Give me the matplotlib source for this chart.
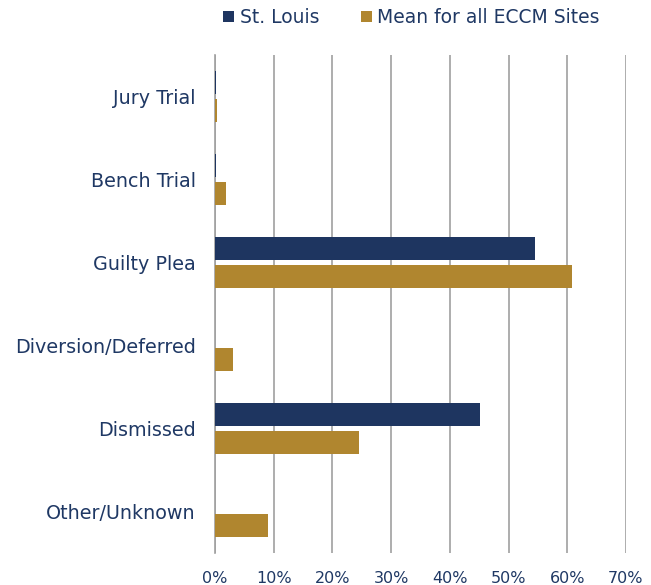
import matplotlib.pyplot as plt
import numpy as np

categories = ['Jury Trial', 'Bench Trial', 'Guilty Plea', 'Diversion/Deferred', 'Dismissed', 'Other/Unknown']
st_louis = [0.2, 0.1, 54.5, 0.0, 45.1, 0.0]
eccm_mean = [0.3, 1.9, 60.8, 3.1, 24.5, 9.0]

navy = '#1E3560'
gold = '#B0862F'
text_color = '#1F3864'

plt.rcParams['font.family'] = ['DejaVu Sans']

fig = plt.figure(figsize=(6.51, 5.85), dpi=100)
ax = fig.add_axes([215 / 651, 32 / 585, 411 / 651, 498 / 585])

y = np.arange(len(categories))
h = 0.28
ax.barh(y - 0.165, st_louis, height=h, color=navy, label='St. Louis', zorder=3)
ax.barh(y + 0.165, eccm_mean, height=h, color=gold, label='Mean for all ECCM Sites', zorder=3)

ax.set_ylim(len(categories) - 0.5, -0.5)
ax.set_xlim(0, 70)
ax.set_xticks(np.arange(0, 71, 10))
ax.set_xticklabels([f'{v}%' for v in range(0, 71, 10)], color=text_color, fontsize=11.5)
ax.set_yticks(y)
ax.set_yticklabels(categories, color=text_color, fontsize=13.8)

ax.grid(axis='x', color='#a0a0a0', linewidth=1.2, zorder=0)
for s in ['top', 'right', 'bottom']:
    ax.spines[s].set_visible(False)
ax.spines['left'].set_color('#a0a0a0')
ax.spines['left'].set_linewidth(1.2)
ax.tick_params(axis='y', length=0, pad=14)
ax.tick_params(axis='x', length=0, pad=13)

leg = fig.legend(loc='upper left', bbox_to_anchor=(206 / 651, 1.015), ncol=2, frameon=False,
                 fontsize=13.5, handlelength=0.6, handleheight=0.6, handletextpad=0.3,
                 columnspacing=2.2)
for t in leg.get_texts():
    t.set_color(text_color)

fig.savefig('out.png', dpi=100)
